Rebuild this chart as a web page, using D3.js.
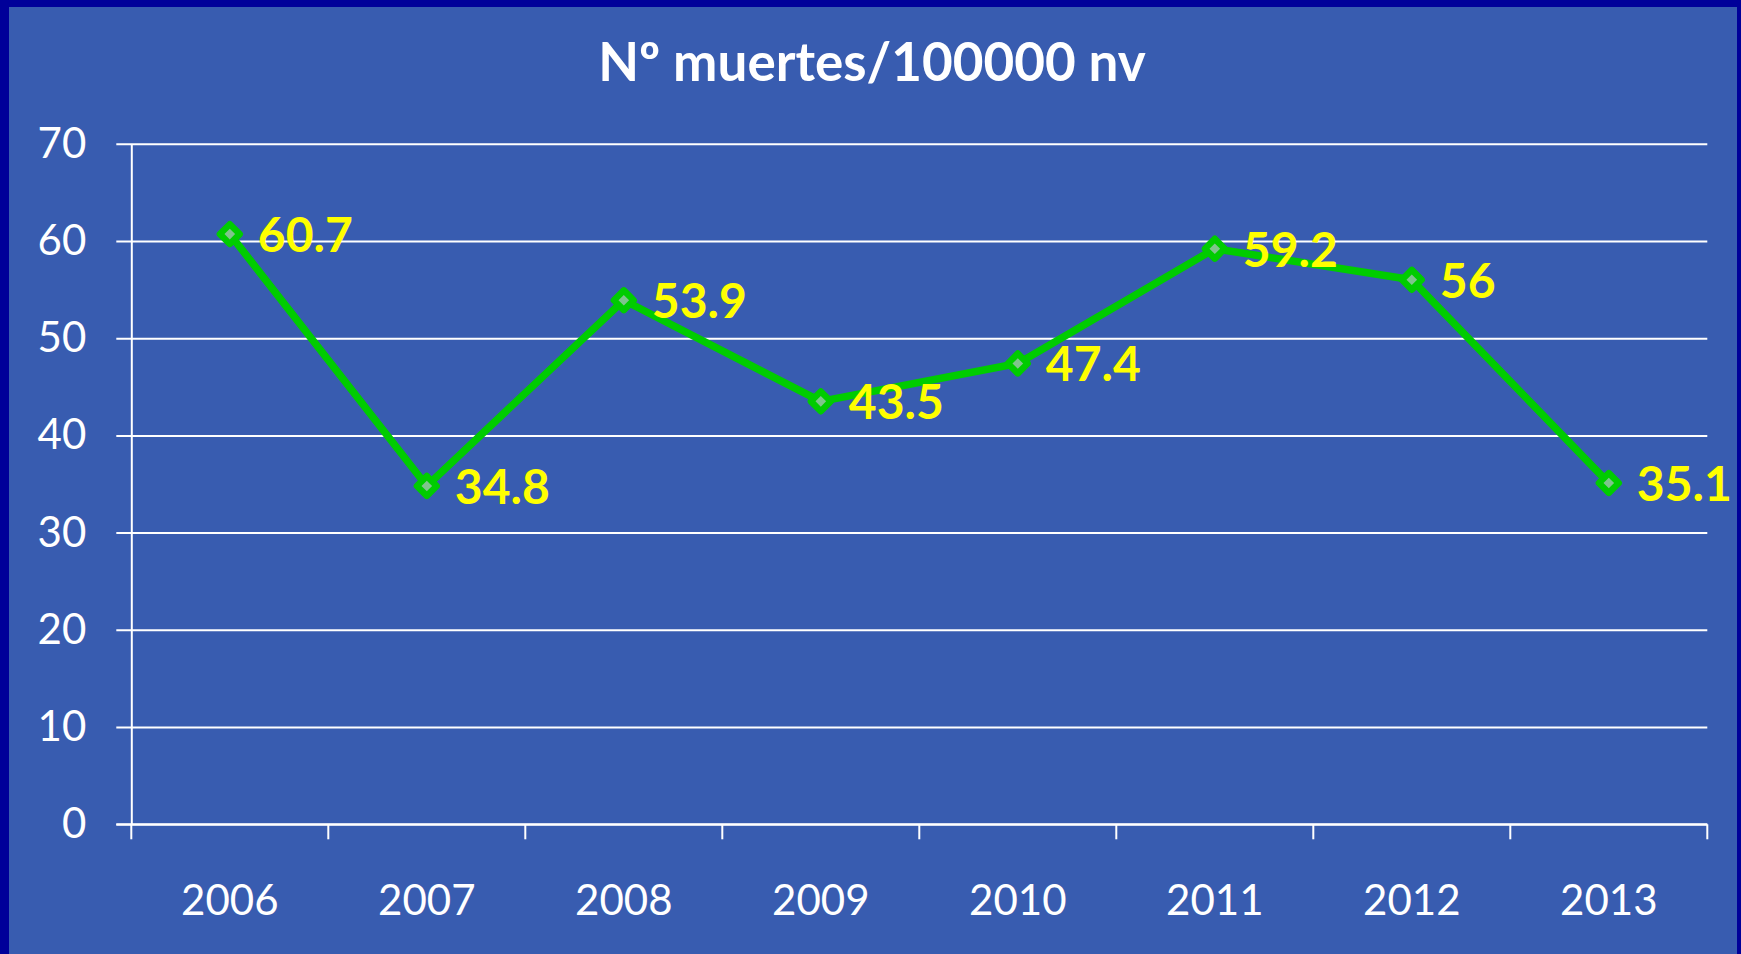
<!DOCTYPE html>
<html>
<head>
<meta charset="utf-8">
<script src="https://cdn.jsdelivr.net/npm/d3@7"></script>
<style>
  html, body { margin: 0; padding: 0; background: #000099; }
  svg { display: block; }
</style>
</head>
<body>
<script>
const categories = ["2006", "2007", "2008", "2009", "2010", "2011", "2012", "2013"];
const values = [60.7, 34.8, 53.9, 43.5, 47.4, 59.2, 56, 35.1];
const valueLabels = ["60.7", "34.8", "53.9", "43.5", "47.4", "59.2", "56", "35.1"];
const yTicks = [0, 10, 20, 30, 40, 50, 60, 70];
const title = "Nº muertes/100000 nv";

(function () {
const W = 1741, H = 954;
const svg = d3.select("body").append("svg").attr("width", W).attr("height", H);

// border + background
svg.append("rect").attr("x", 0).attr("y", 0).attr("width", W).attr("height", H).attr("fill", "#000099");
svg.append("rect").attr("x", 9).attr("y", 7).attr("width", 1737 - 9).attr("height", H - 7).attr("fill", "#385CB0");

const pLeft = 131.3, pRight = 1707.3, pTop = 143.7, pBottom = 824.3;

const x = d3.scaleBand().domain(categories).range([pLeft, pRight]).paddingInner(0).paddingOuter(0);
const y = d3.scaleLinear().domain([0, 70]).range([pBottom, pTop]);

// title
svg.append("text")
  .attr("x", 872).attr("y", 81)
  .attr("text-anchor", "middle")
  .attr("font-family", "Lato, sans-serif")
  .attr("font-weight", "bold")
  .attr("font-size", 53)
  .attr("fill", "#ffffff")
  .text(title);

// Y axis with gridlines
const yAxis = d3.axisLeft(y).tickValues(yTicks).tickSize(-(pRight - pLeft)).tickSizeOuter(0).tickPadding(30);
const gy = svg.append("g").attr("transform", `translate(${pLeft},0)`).call(yAxis);
gy.select(".domain").attr("stroke", "#ffffff").attr("stroke-width", 2);
gy.selectAll(".tick line").attr("stroke", "#ffffff").attr("stroke-width", 2)
  .attr("x1", -15);
gy.selectAll(".tick text")
  .attr("x", -45)
  .attr("font-family", "Lato, sans-serif")
  .attr("font-size", 42)
  .attr("fill", "#ffffff");

// X axis (ticks at category boundaries)
const boundaries = categories.map(c => x(c)).concat([pRight]);
const gx = svg.append("g").attr("transform", `translate(0,${pBottom})`);
gx.append("line").attr("x1", pLeft - 15).attr("x2", pRight).attr("y1", 0).attr("y2", 0)
  .attr("stroke", "#ffffff").attr("stroke-width", 2);
gx.selectAll("line.tk").data(boundaries).enter().append("line").attr("class", "tk")
  .attr("x1", d => d).attr("x2", d => d).attr("y1", 0).attr("y2", 15)
  .attr("stroke", "#ffffff").attr("stroke-width", 2);
gx.selectAll("text").data(categories).enter().append("text")
  .attr("x", d => x(d) + x.bandwidth() / 2)
  .attr("y", 91)
  .attr("text-anchor", "middle")
  .attr("font-family", "Lato, sans-serif")
  .attr("font-size", 42)
  .attr("fill", "#ffffff")
  .text(d => d);

const cx = (d, i) => x(categories[i]) + x.bandwidth() / 2;

// line
const line = d3.line().x((d, i) => cx(d, i)).y(d => y(d));
svg.append("path").datum(values)
  .attr("d", line)
  .attr("fill", "none")
  .attr("stroke", "#00CC00")
  .attr("stroke-width", 7.5)
  .attr("stroke-linejoin", "round");

// markers
const sym = d3.symbol().type(d3.symbolSquare).size(14 * 14);
svg.selectAll("path.mk").data(values).enter().append("path").attr("class", "mk")
  .attr("d", sym)
  .attr("transform", (d, i) => `translate(${cx(d, i)},${y(d)}) rotate(45)`)
  .attr("fill", "#7FC48C")
  .attr("stroke", "#00CC00")
  .attr("stroke-width", 6.5)
  .attr("stroke-linejoin", "round");

// data labels
svg.selectAll("text.lbl").data(values).enter().append("text").attr("class", "lbl")
  .attr("x", (d, i) => cx(d, i) + 28)
  .attr("y", d => y(d) + 18)
  .attr("font-family", "Lato, sans-serif")
  .attr("font-weight", "bold")
  .attr("font-size", 48)
  .attr("fill", "#FFFF00")
  .text((d, i) => valueLabels[i]);
})();
</script>
</body>
</html>
